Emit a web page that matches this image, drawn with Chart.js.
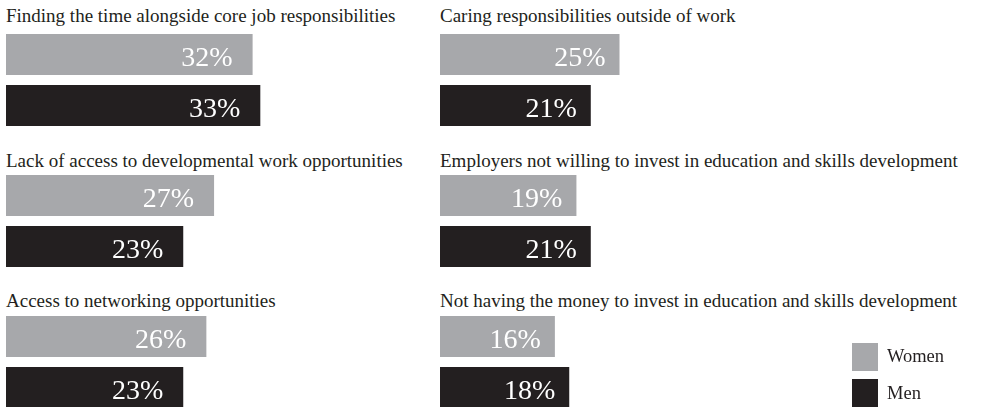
<!DOCTYPE html>
<html>
<head>
<meta charset="utf-8">
<script src="https://cdn.jsdelivr.net/npm/chart.js@4/dist/chart.umd.min.js"></script>
<style>
  html, body {
    margin: 0;
    padding: 0;
    background: #ffffff;
    overflow: hidden;
  }

  #board {
    position: relative;
    width: 993px;
    height: 407px;
    font-family: "Liberation Serif", "Times New Roman", serif;
    color: #231f20;
  }

  .panel-title {
    position: absolute;
    font-size: 19px;
    line-height: 19px;
    white-space: nowrap;
  }

  .panel-canvas {
    position: absolute;
  }

  .key-box {
    position: absolute;
    width: 26px;
    height: 28px;
  }

  .key-text {
    position: absolute;
    font-size: 18.5px;
    line-height: 19px;
  }
</style>
</head>
<body>
<div id="board"></div>

<script>
const panelTitles = [
    "Finding the time alongside core job responsibilities",
    "Caring responsibilities outside of work",
    "Lack of access to developmental work opportunities",
    "Employers not willing to invest in education and skills development",
    "Access to networking opportunities",
    "Not having the money to invest in education and skills development"
];

const seriesLabels = ["Women", "Men"];

const womenValues = [32, 25, 27, 19, 26, 16];

const menValues = [33, 21, 23, 21, 23, 18];

const seriesColors = ["#a7a8ab", "#231f20"];


// panel placement: two columns, three rows
const columnLeft = [6, 440];
const columnWidth = [420, 550];
const columnMax = [54.5, 76.6];
const labelInset = [20, 14];
const rowTitleTop = [6, 151, 291];
const rowChartTop = [29, 170, 311];
const chartHeight = 102;


const valueLabels = {

    id: "valueLabels",

    afterDatasetsDraw(chart, args, opts) {

        const ctx = chart.ctx;

        const meta = chart.getDatasetMeta(0);

        const values = chart.data.datasets[0].data;


        ctx.save();

        ctx.fillStyle = "#ffffff";

        ctx.font = "28px 'Liberation Serif', 'Times New Roman', serif";

        ctx.textAlign = "right";

        ctx.textBaseline = "alphabetic";


        meta.data.forEach((bar, i) => {

            ctx.fillText(values[i] + "%", bar.x - opts.inset, bar.y + 11);

        });


        ctx.restore();

    }

};



function addTitle(board, text, left, top) {

    const div = document.createElement("div");

    div.className = "panel-title";

    div.style.left = left + "px";

    div.style.top = top + "px";

    div.textContent = text;

    board.appendChild(div);

}



function drawPanel(board, index) {

    const col = index % 2;

    const row = Math.floor(index / 2);


    addTitle(board, panelTitles[index], columnLeft[col], rowTitleTop[row]);


    const canvas = document.createElement("canvas");

    canvas.className = "panel-canvas";

    canvas.width = columnWidth[col];

    canvas.height = chartHeight;

    canvas.style.left = columnLeft[col] + "px";

    canvas.style.top = rowChartTop[row] + "px";

    board.appendChild(canvas);


    new Chart(
        canvas,
        {

            type: "bar",

            data: {

                labels: seriesLabels,

                datasets: [{

                    data: [womenValues[index], menValues[index]],

                    backgroundColor: seriesColors,

                    borderWidth: 0,

                    barPercentage: 0.804,

                    categoryPercentage: 1

                }]

            },

            options: {

                indexAxis: "y",

                responsive: false,

                animation: false,

                layout: {

                    padding: 0

                },

                scales: {

                    x: {

                        display: false,

                        min: 0,

                        max: columnMax[col]

                    },

                    y: {

                        display: false

                    }

                },

                plugins: {

                    legend: { display: false },

                    tooltip: { enabled: false },

                    valueLabels: { inset: labelInset[col] }

                }

            },

            plugins: [valueLabels]

        }

    );

}



function drawKey(board) {

    const boxTops = [343, 379];

    const textTops = [347, 384];


    seriesLabels.forEach((label, i) => {

        const box = document.createElement("div");

        box.className = "key-box";

        box.style.left = "852px";

        box.style.top = boxTops[i] + "px";

        box.style.background = seriesColors[i];

        board.appendChild(box);


        const text = document.createElement("div");

        text.className = "key-text";

        text.style.left = "887px";

        text.style.top = textTops[i] + "px";

        text.textContent = label;

        board.appendChild(text);

    });

}



const board = document.getElementById("board");

panelTitles.forEach((title, i) => drawPanel(board, i));

drawKey(board);
</script>
</body>
</html>
